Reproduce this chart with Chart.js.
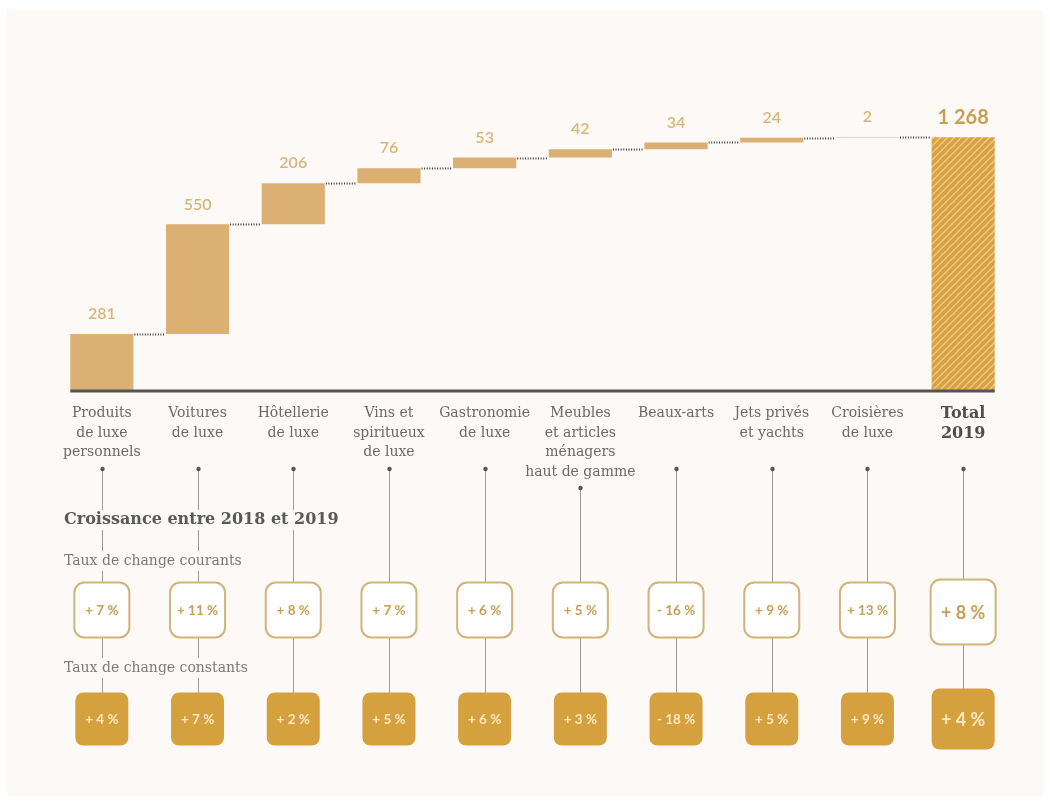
<!DOCTYPE html>
<html>
<head>
<meta charset="utf-8">
<script src="https://cdn.jsdelivr.net/npm/chart.js@4.4.1/dist/chart.umd.min.js"></script>
<style>
  html, body { margin: 0; padding: 0; background: #ffffff; }
  #panel { position: absolute; left: 7px; top: 10px; width: 1036px; height: 786px; background: #fdf9f6; }
  #Marche { position: absolute; left: 0; top: 0; }
</style>
</head>
<body>
<div id="panel"></div>
<canvas id="Marche" width="1050" height="802"></canvas>
<script>
// Données du graphique (milliards d'euros, 2019)
var categories = [
    ['Produits', 'de luxe', 'personnels'],
    ['Voitures', 'de luxe'],
    ['Hôtellerie', 'de luxe'],
    ['Vins et', 'spiritueux', 'de luxe'],
    ['Gastronomie', 'de luxe'],
    ['Meubles', 'et articles', 'ménagers', 'haut de gamme'],
    ['Beaux-arts'],
    ['Jets privés', 'et yachts'],
    ['Croisières', 'de luxe'],
    ['Total', '2019']
];
var valeurs = [281, 550, 206, 76, 53, 42, 34, 24, 2, 1268];
var etiquettes = ['281', '550', '206', '76', '53', '42', '34', '24', '2', '1 268'];
var tauxCourants = [7, 11, 8, 7, 6, 5, -16, 9, 13, 8];
var tauxConstants = [4, 7, 2, 5, 6, 3, -18, 5, 9, 4];

var FOND = '#fdf9f6';
var SERIF = '"DejaVu Serif", serif';
var SANS = 'Lato, "Open Sans", sans-serif';

// barres flottantes : cumul pour la cascade, total depuis zéro
var barres = [];
var cumul = 0;
for (var i = 0; i < valeurs.length; i++) {
    if (i === valeurs.length - 1) {
        barres.push([0, valeurs[i]]);
    } else {
        barres.push([cumul, cumul + valeurs[i]]);
        cumul += valeurs[i];
    }
}

function hachures() {
    var c = document.createElement('canvas');
    c.width = 7; c.height = 7;
    var g = c.getContext('2d');
    g.fillStyle = '#d8a243';
    g.fillRect(0, 0, 7, 7);
    g.strokeStyle = '#efcb86';
    g.lineWidth = 1.3;
    g.beginPath();
    g.moveTo(0, 7); g.lineTo(7, 0);
    g.moveTo(-1, 1); g.lineTo(1, -1);
    g.moveTo(6, 8); g.lineTo(8, 6);
    g.stroke();
    return g.createPattern(c, 'repeat');
}

function formatTaux(v) {
    return (v < 0 ? '- ' : '+ ') + Math.abs(v) + ' %';
}

function boite(ctx, cx, cy, w, h, r) {
    ctx.beginPath();
    ctx.roundRect(cx - w / 2, cy - h / 2, w, h, r);
}

function texteDetoure(ctx, txt, x, y) {
    var w = ctx.measureText(txt).width;
    ctx.save();
    ctx.fillStyle = FOND;
    ctx.fillRect(x - 3, y - 10, w + 6, 20);
    ctx.restore();
    ctx.fillText(txt, x, y);
}

var decor = {
    id: 'decor',
    afterDatasetsDraw: function(chart) {
        var ctx = chart.ctx;
        var y = chart.scales.y;
        var meta = chart.getDatasetMeta(0);
        ctx.save();
        // pointillés entre les barres
        ctx.strokeStyle = '#3a3a3a';
        ctx.lineWidth = 2;
        ctx.setLineDash([1, 1.6]);
        for (var i = 0; i < meta.data.length - 1; i++) {
            var a = meta.data[i], b = meta.data[i + 1];
            var yy = Math.round(y.getPixelForValue(barres[i][1])) + 0.5;
            ctx.beginPath();
            ctx.moveTo(a.x + a.width / 2 + 1, yy);
            ctx.lineTo(b.x - b.width / 2 - 1, yy);
            ctx.stroke();
        }
        ctx.setLineDash([]);
        // ligne de base
        var first = meta.data[0], last = meta.data[meta.data.length - 1];
        var y0 = y.getPixelForValue(0);
        ctx.strokeStyle = '#555555';
        ctx.lineWidth = 3;
        ctx.beginPath();
        ctx.moveTo(first.x - first.width / 2, y0 + 1);
        ctx.lineTo(last.x + last.width / 2, y0 + 1);
        ctx.stroke();
        // valeurs au-dessus des barres
        ctx.textAlign = 'center';
        ctx.textBaseline = 'middle';
        for (var j = 0; j < meta.data.length; j++) {
            var bar = meta.data[j];
            var total = j === meta.data.length - 1;
            ctx.fillStyle = total ? '#c99e4f' : '#dab57a';
            ctx.font = (total ? 'bold 20px ' : '600 16px ') + SANS;
            ctx.fillText(etiquettes[j], bar.x, y.getPixelForValue(barres[j][1]) - 20);
        }
        ctx.restore();
    },
    afterDraw: function(chart) {
        var ctx = chart.ctx;
        var x = chart.scales.x;
        var n = categories.length;
        ctx.save();
        // traits verticaux
        ctx.strokeStyle = '#9c9a98';
        ctx.lineWidth = 1;
        for (var i = 0; i < n; i++) {
            var cx = Math.round(x.getPixelForValue(i)) + 0.5;
            var dotY = categories[i].length > 3 ? 488 : 469;
            ctx.beginPath();
            ctx.moveTo(cx, dotY);
            ctx.lineTo(cx, 716);
            ctx.stroke();
            ctx.fillStyle = '#555555';
            ctx.beginPath();
            ctx.arc(cx, dotY, 2.2, 0, Math.PI * 2);
            ctx.fill();
        }
        // titres de la section croissance
        ctx.textAlign = 'left';
        ctx.textBaseline = 'middle';
        ctx.fillStyle = '#58595b';
        ctx.font = 'bold 16px ' + SERIF;
        texteDetoure(ctx, 'Croissance entre 2018 et 2019', 64, 520);
        ctx.fillStyle = '#7a7a7a';
        ctx.font = '14px ' + SERIF;
        texteDetoure(ctx, 'Taux de change courants', 64, 561);
        texteDetoure(ctx, 'Taux de change constants', 64, 668);
        // boîtes de pourcentages
        ctx.textAlign = 'center';
        for (var k = 0; k < n; k++) {
            var px = x.getPixelForValue(k);
            var tot = k === n - 1;
            var w1 = tot ? 65 : 55, w2 = tot ? 63 : 53;
            var c1 = tot ? 612 : 610, c2 = 719;
            var h2 = tot ? 61 : 53;
            boite(ctx, px, c1, w1, w1, 10);
            ctx.fillStyle = '#ffffff';
            ctx.fill();
            ctx.strokeStyle = '#d2b37c';
            ctx.lineWidth = 2;
            ctx.stroke();
            ctx.fillStyle = '#c99f55';
            ctx.font = (tot ? 'bold 18px ' : 'bold 13.5px ') + SANS;
            ctx.fillText(formatTaux(tauxCourants[k]), px, c1 + 1);

            boite(ctx, px, c2, w2, h2, 8);
            ctx.fillStyle = '#d5a03e';
            ctx.fill();
            ctx.fillStyle = '#fbe8c2';
            ctx.fillText(formatTaux(tauxConstants[k]), px, c2 + 1);
        }
        ctx.restore();
    }
};

var ctx = document.getElementById('Marche');
var couleurs = valeurs.map(function(v, i) {
    return i === valeurs.length - 1 ? hachures() : '#dcb073';
});

var chart = new Chart(ctx, {
    type: 'bar',
    data: {
        labels: categories,
        datasets: [{
            data: barres,
            backgroundColor: couleurs,
            borderWidth: 0,
            barPercentage: 0.66,
            categoryPercentage: 1
        }]
    },
    options: {
        responsive: false,
        animation: false,
        layout: { padding: { left: 54, right: 39, top: 91, bottom: 0 } },
        plugins: {
            legend: { display: false },
            tooltip: { enabled: false }
        },
        scales: {
            x: {
                grid: { display: false, drawTicks: false },
                border: { display: false },
                afterFit: function(scale) { scale.height = 412; },
                ticks: {
                    padding: 14,
                    autoSkip: false,
                    maxRotation: 0,
                    color: function(c) { return c.index === 9 ? '#4f4f4f' : '#6a6a6a'; },
                    font: function(c) {
                        return c.index === 9
                            ? { family: SERIF, size: 16, weight: 'bold', lineHeight: 1.25 }
                            : { family: SERIF, size: 14, lineHeight: 1.39 };
                    }
                }
            },
            y: {
                display: false,
                min: 0,
                max: 1500
            }
        }
    },
    plugins: [decor]
});
</script>
</body>
</html>
